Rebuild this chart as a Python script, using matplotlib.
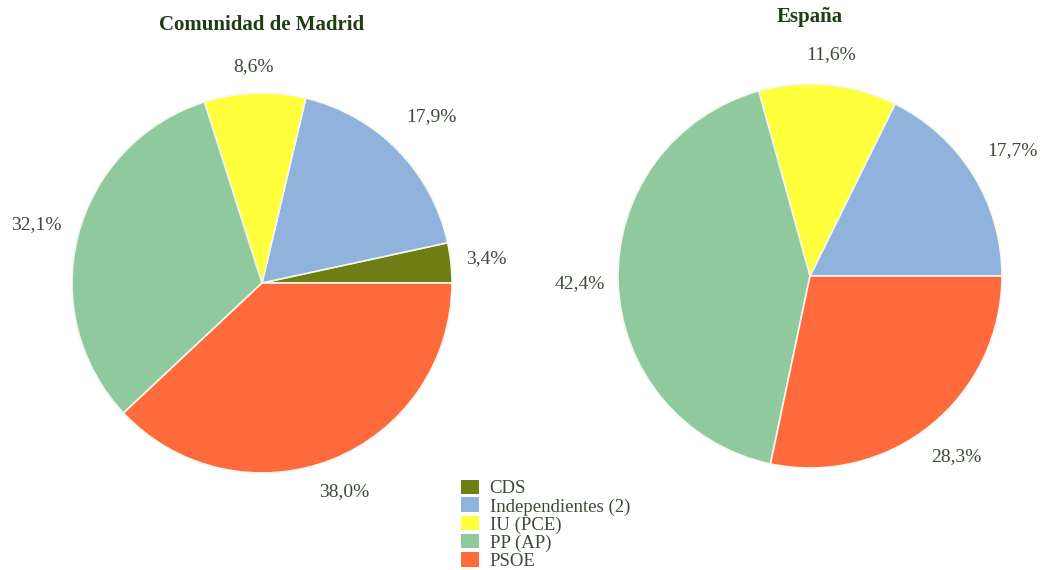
import numpy as np
import matplotlib.pyplot as plt
from matplotlib.patches import Patch

# vote share by party (%)
parties = ['CDS', 'Independientes (2)', 'IU (PCE)', 'PP (AP)', 'PSOE']
madrid = [3.4, 17.9, 8.6, 32.1, 38.0]
espana_parties = ['Independientes (2)', 'IU (PCE)', 'PP (AP)', 'PSOE']
espana = [17.7, 11.6, 42.4, 28.3]

colors = {'CDS': '#6f7e14', 'Independientes (2)': '#8fb3dc', 'IU (PCE)': '#ffff3c',
          'PP (AP)': '#90c99d', 'PSOE': '#ff6a3c'}

plt.rcParams['font.family'] = ['Liberation Serif', 'DejaVu Serif']
title_col = '#1f3d12'
label_col = '#3c4a38'


def pct(v):
    return ('%.1f%%' % v).replace('.', ',')


def draw_pie(ax, names, vals, dists):
    wedges, _, autotexts = ax.pie(
        vals, colors=[colors[n] for n in names], startangle=0, counterclock=True,
        autopct=pct, pctdistance=1.2,
        wedgeprops=dict(edgecolor='#f4f8ec', linewidth=1.2),
        textprops=dict(fontsize=14, color=label_col))
    # push each percentage label out by its own amount
    for w, t, d in zip(wedges, autotexts, dists):
        a = np.deg2rad((w.theta1 + w.theta2) / 2)
        t.set_position((d * np.cos(a), d * np.sin(a)))
    ax.set_xlim(-1, 1)
    ax.set_ylim(-1, 1)
    ax.set_aspect('equal')


fig = plt.figure(figsize=(10.4, 5.7), dpi=100)
ax1 = fig.add_axes([72 / 1040, 97 / 570, 380 / 1040, 380 / 570])
ax2 = fig.add_axes([618 / 1040, 102 / 570, 384 / 1040, 384 / 570])

draw_pie(ax1, parties, madrid, [1.19, 1.25, 1.14, 1.23, 1.18])
draw_pie(ax2, espana_parties, espana, [1.24, 1.16, 1.2, 1.21])

fig.text(262 / 1040, 1 - 25 / 570, 'Comunidad de Madrid', ha='center', va='center',
         fontsize=15, fontweight='bold', color=title_col)
fig.text(810 / 1040, 1 - 17 / 570, 'España', ha='center', va='center',
         fontsize=15, fontweight='bold', color=title_col)

handles = [Patch(facecolor=colors[p], edgecolor='none') for p in parties]
fig.legend(handles, parties, loc='upper left', bbox_to_anchor=(453 / 1040, 1 - 472 / 570),
           frameon=False, fontsize=13.5, handlelength=1.0, handleheight=0.85,
           handletextpad=0.55, labelspacing=0.0, borderaxespad=0, labelcolor=label_col)

fig.savefig('out.png', dpi=100)
